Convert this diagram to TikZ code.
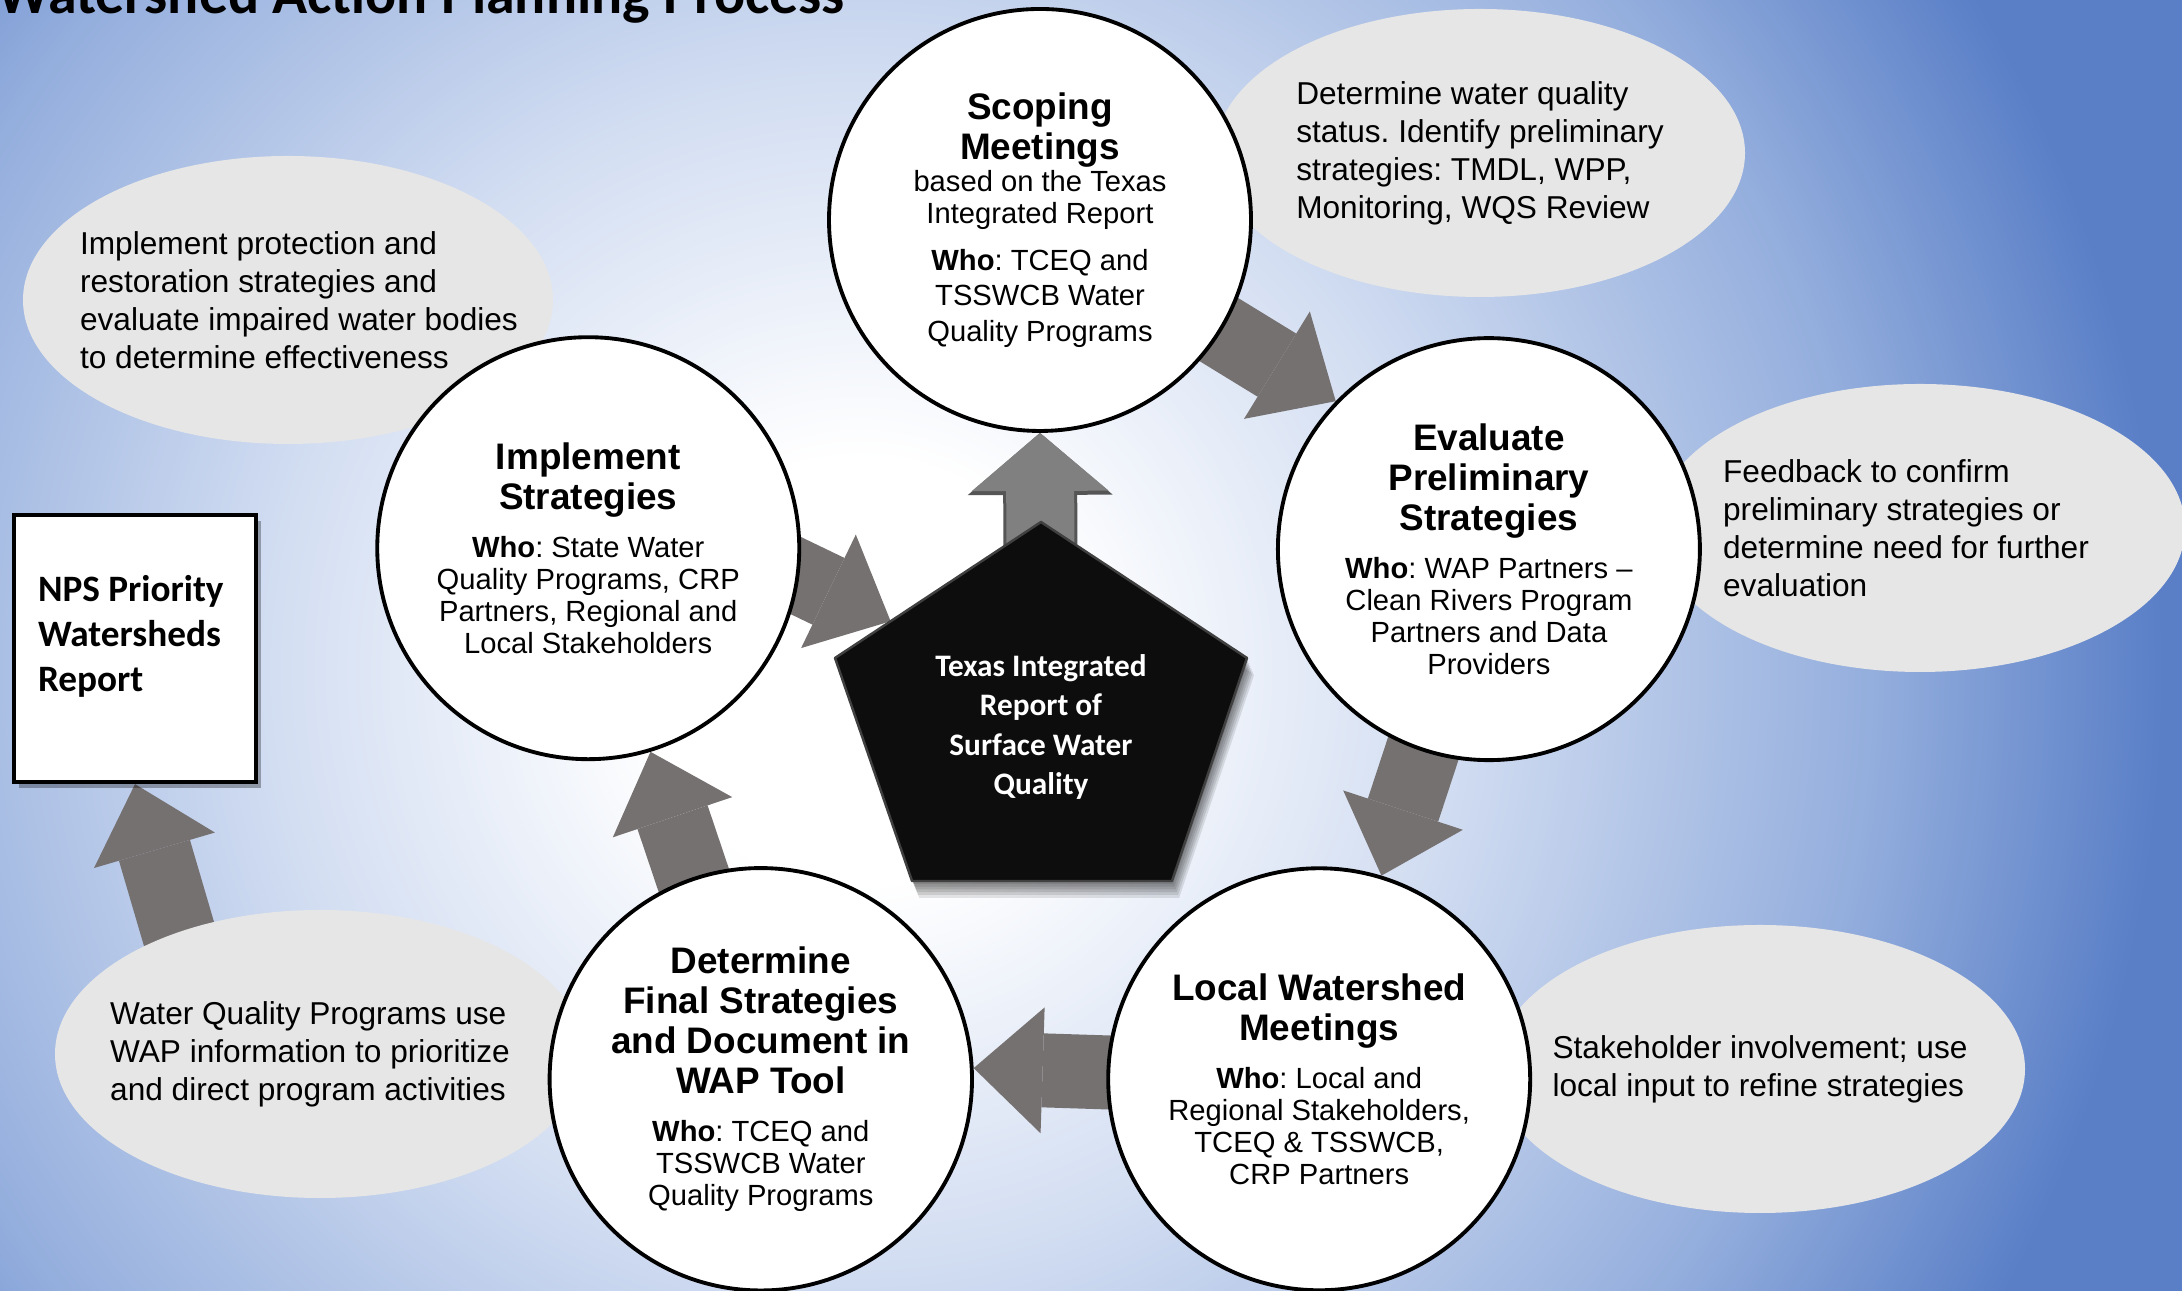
\documentclass[tikz,border=0pt]{standalone}
\usepackage{fontspec}
\setmainfont{Liberation Sans}
\newfontfamily\calibri{Carlito}
\usetikzlibrary{positioning,calc,arrows.meta,shadows,shapes.geometric}

\definecolor{arrowgray}{HTML}{767171}
\definecolor{upgray}{HTML}{808080}
\definecolor{upedge}{HTML}{555555}
\definecolor{notegray}{HTML}{E6E6E6}
\definecolor{pentblack}{HTML}{0D0D0D}
\definecolor{bgpale}{HTML}{D3DEF2}
\definecolor{bgmid}{HTML}{94AEDD}
\definecolor{bgblue}{HTML}{5A7FC7}

\pgfdeclareradialshading{wapback}{\pgfpoint{0bp}{0bp}}{%
  color(0bp)=(white); color(4bp)=(white); color(11bp)=(bgpale);
  color(19bp)=(bgmid); color(24.5bp)=(bgblue); color(50bp)=(bgblue)}

\pgfdeclarelayer{backdrop}
\pgfdeclarelayer{arrows}
\pgfsetlayers{backdrop,arrows,main}

\frenchspacing
\hyphenpenalty=10000
\newcommand\stagehead{\fontsize{10.5}{11.4}\selectfont\bfseries}
\newcommand\stagebody{\fontsize{8.3}{9.1}\selectfont}

\begin{document}
\begin{tikzpicture}
                [
                stage/.style={circle, draw, line width=1.1pt, fill=white, minimum size=4.22cm,
                              inner sep=0pt, text width=3.3cm, align=flush center},
                notebg/.style={ellipse, fill=notegray, minimum width=5.3cm, minimum height=2.88cm},
                notetext/.style={align=flush left, inner sep=0pt, font=\fontsize{9}{10.8}\selectfont},
                flow/.style={draw=arrowgray, line width=0.74cm,
                             -{Triangle[length=0.69cm, width=1.26cm, line width=0pt]}},
                upflow/.style={draw=upgray, line width=0.68cm,
                             -{Triangle[length=0.58cm, width=1.37cm, line width=0pt]},
                             preaction={draw=upedge, line width=0.74cm,
                             -{Triangle[length=0.62cm, width=1.45cm, line width=0pt]}}},
                pent/.style={fill=pentblack, draw=black!75, line width=0.7pt, line join=round},
                pentlabel/.style={text=white, align=flush center, inner sep=0pt,
                             font=\calibri\bfseries\fontsize{8.9}{11.1}\selectfont},
                npsbox/.style={draw, line width=1.2pt, fill=white, minimum width=2.42cm,
                             minimum height=2.67cm, text width=1.94cm, align=flush left, inner sep=0pt,
                             font=\calibri\bfseries\fontsize{10.6}{12.8}\selectfont,
                             drop shadow={shadow xshift=0.05cm, shadow yshift=-0.06cm, opacity=0.3, fill=black}}
                ]
                \useasboundingbox (0,0) rectangle (21.82,12.91);

                % Title (cut by the top edge)
                \node[anchor=base west, inner sep=0pt, font=\calibri\bfseries\fontsize{16.5}{19}\selectfont]
                    (title) at (-0.03,12.77) {Watershed Action Planning Process};

                % Stages round the hub
                \coordinate (hub) at (10.40,5.96);
                \node[stage] (scope) at ($(hub)+(90:4.75)$)
                    {{\stagehead Scoping\\Meetings\par}
                     {\stagebody based on the Texas\\Integrated Report\par}\vspace{3.3pt}
                     {\fontsize{8.3}{10.1}\selectfont\textbf{Who}: TCEQ and\\TSSWCB Water\\Quality Programs\par}};
                \node[stage] (eval) at ($(hub)+(18:4.72)$)
                    {{\stagehead Evaluate\\Preliminary\\Strategies\par}\vspace{4.7pt}
                     {\stagebody\textbf{Who}: WAP Partners –\\Clean Rivers Program\\Partners and Data\\Providers\par}};
                \node[stage] (local) at ($(hub)+(-54:4.75)$)
                    {{\stagehead Local Watershed\\Meetings\par}\vspace{4.7pt}
                     {\stagebody\textbf{Who}: Local and\\Regional Stakeholders,\\TCEQ \& TSSWCB,\\CRP Partners\par}};
                \node[stage] (det) at ($(hub)+(-126:4.75)$)
                    {{\stagehead Determine\\Final Strategies\\and Document in\\WAP Tool\par}\vspace{4.7pt}
                     {\stagebody\textbf{Who}: TCEQ and\\TSSWCB Water\\Quality Programs\par}};
                \node[stage] (impl) at ($(hub)+(162:4.75)$)
                    {{\stagehead Implement\\Strategies\par}\vspace{4.7pt}
                     {\stagebody\textbf{Who}: State Water\\Quality Programs, CRP\\Partners, Regional and\\Local Stakeholders\par}};

                % Central pentagon with a soft shadow
                \coordinate (ptop) at (10.41,7.69);
                \coordinate (pright) at (12.47,6.33);
                \coordinate (pbr) at (11.72,4.10);
                \coordinate (pbl) at (9.12,4.10);
                \coordinate (pleft) at (8.35,6.33);
                \foreach \k in {1,...,6}
                    \fill[black, opacity=0.1, transform canvas={shift={(0.012*\k,-0.028*\k)}}]
                        (ptop) -- (pright) -- (pbr) -- (pbl) -- (pleft) -- cycle;
                \filldraw[pent] (ptop) -- (pright) -- (pbr) -- (pbl) -- (pleft) -- cycle;
                \node[pentlabel] (tir) at (10.41,5.64) {Texas Integrated\\Report of\\Surface Water\\Quality};

                % Report box
                \node[npsbox] (nps) at (1.35,6.425) {NPS Priority\\Watersheds\\Report\\[-4pt]\mbox{}};

                \begin{pgfonlayer}{backdrop}
                    % Background
                    \fill[bgblue] (0,0) rectangle (21.82,12.91);
                    \begin{scope}
                        \clip (0,0) rectangle (21.82,12.91);
                        \shade[shading=wapback] (-4.7,-7.1) rectangle (21.9,19.5);
                    \end{scope}
                    % Arrow to the report, partly under its note
                    \draw[flow] ($(nps.south)+(0.64,-2.18)$) -- (nps.south);
                    % Notes
                    \node[notebg] (scopenote) at (14.80,11.38) {};
                    \node[notetext] (scopenotetext) at (scopenote)
                        {Determine water quality\\status. Identify preliminary\\strategies: TMDL, WPP,\\Monitoring, WQS Review};
                    \node[notebg] (implnote) at (2.88,9.91) {};
                    \node[notetext, xshift=0.11cm] (implnotetext) at (implnote)
                        {Implement protection and\\restoration strategies and\\evaluate impaired water bodies\\to determine effectiveness};
                    \node[notebg] (evalnote) at (19.20,7.63) {};
                    \node[notetext, xshift=-0.14cm] (evalnotetext) at (evalnote)
                        {Feedback to confirm\\preliminary strategies or\\determine need for further\\evaluation};
                    \node[notebg] (localnote) at (17.60,2.22) {};
                    \node[notetext] (localnotetext) at (localnote)
                        {Stakeholder involvement; use\\local input to refine strategies};
                    \node[notebg] (detnote) at (3.20,2.37) {};
                    \node[notetext, xshift=-0.10cm] (detnotetext) at (detnote)
                        {Water Quality Programs use\\WAP information to prioritize\\and direct program activities};
                \end{pgfonlayer}

                \begin{pgfonlayer}{arrows}
                    % Cycle arrows
                    \draw[flow] (scope.center) -- (eval.136);
                    \draw[flow] (eval.center) -- (local.73);
                    \draw[flow] (local.center) -- (det.3);
                    \draw[flow] (det.center) -- (impl.-73);
                    \coordinate (implout) at ($(impl.center)+(0.76,0.36)$);
                    \draw[flow] (implout) -- ($(pleft)!0.27!(ptop)$);
                    % Report feeds the scoping meetings
                    \draw[upflow] (tir.center) -- (scope.south);
                \end{pgfonlayer}
            \end{tikzpicture}
\end{document}
